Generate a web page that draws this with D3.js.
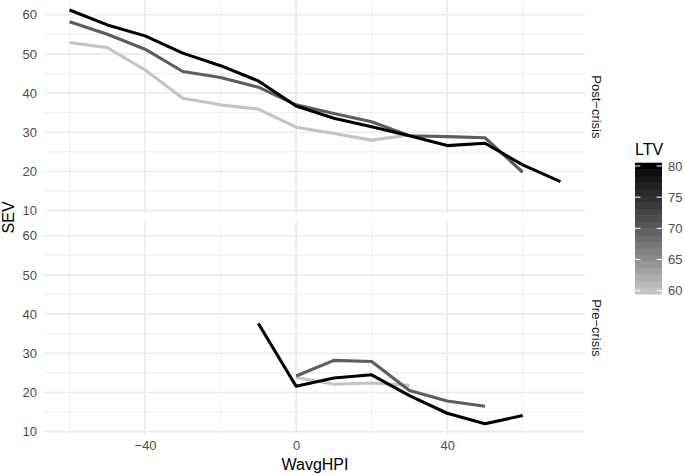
<!DOCTYPE html>
<html>
<head>
<meta charset="utf-8">
<script src="https://cdn.jsdelivr.net/npm/d3@7"></script>
<style>
  body { margin: 0; background: #fff; }
  svg { font-family: "Liberation Sans", Arial, sans-serif; }
</style>
</head>
<body>
<script>
// WavgHPI buckets shared by every series (null = no point)
const hpi = [-60, -50, -40, -30, -20, -10, 0, 10, 20, 30, 40, 50, 60, 70];

// Post-crisis SEV by LTV
const post60 = [52.9, 51.6, 45.9, 38.7, 37.0, 35.9, 31.3, 29.7, 28.0, 29.3, null, null, null, null];
const post70 = [58.2, 55.0, 51.2, 45.5, 44.0, 41.5, 37.0, 34.8, 32.7, 29.1, 28.9, 28.6, 19.8, null];
const post80 = [61.2, 57.4, 54.6, 50.2, 47.0, 43.1, 36.7, 33.6, 31.4, 29.1, 26.6, 27.2, 21.7, 17.4];

// Pre-crisis SEV by LTV
const pre60 = [null, null, null, null, null, null, 23.8, 22.1, 22.4, 21.8, null, null, null, null];
const pre70 = [null, null, null, null, null, null, 24.2, 28.2, 27.9, 20.5, 17.8, 16.5, null, null];
const pre80 = [null, null, null, null, null, 37.6, 21.6, 23.7, 24.5, 19.2, 14.7, 12.0, 14.1, null];

const ltvLevels = [60, 70, 80];
const panelNames = ["Post\u2212crisis", "Pre\u2212crisis"];
const xTicks = [-40, 0, 40];
const xMinor = [-60, -20, 20, 60];
const yTicks = [10, 20, 30, 40, 50, 60];
const yMinor = [15, 25, 35, 45, 55];
const legendTicks = [60, 65, 70, 75, 80];

const panels = [
  { name: panelNames[0], series: [post60, post70, post80] },
  { name: panelNames[1], series: [pre60, pre70, pre80] }
];

const w = 685;
const h = 475;
const left = 45;
const right = 585;
const panelH = 212.6;
const panelTops = [0.6, 221.6];

const svg = d3.select("body").append("svg").attr("width", w).attr("height", h);

const xScale = d3.scaleLinear().domain([-66.5, 76.5]).range([left, right]);
const color = d3.scaleLinear().domain([60, 80]).range(["#c4c4c4", "#000000"]).interpolate(d3.interpolateLab);

panels.forEach(function (p, pi) {
  const top = panelTops[pi];
  const yScale = d3.scaleLinear().domain([9.35, 63.6]).range([top + panelH, top]);
  const g = svg.append("g");

  // grid lines (minor first, then major)
  g.selectAll(".yminor").data(yMinor).enter().append("line")
    .attr("x1", left).attr("x2", right)
    .attr("y1", (d) => yScale(d)).attr("y2", (d) => yScale(d))
    .attr("stroke", "#ebebeb").attr("stroke-width", 0.8);
  g.selectAll(".xminor").data(xMinor).enter().append("line")
    .attr("x1", (d) => xScale(d)).attr("x2", (d) => xScale(d))
    .attr("y1", top).attr("y2", top + panelH)
    .attr("stroke", "#ebebeb").attr("stroke-width", 0.8);
  g.selectAll(".ymajor").data(yTicks).enter().append("line")
    .attr("x1", left).attr("x2", right)
    .attr("y1", (d) => yScale(d)).attr("y2", (d) => yScale(d))
    .attr("stroke", "#ebebeb").attr("stroke-width", 1.6);
  g.selectAll(".xmajor").data(xTicks).enter().append("line")
    .attr("x1", (d) => xScale(d)).attr("x2", (d) => xScale(d))
    .attr("y1", top).attr("y2", top + panelH)
    .attr("stroke", "#ebebeb").attr("stroke-width", 1.6);

  // lines, lowest LTV drawn first
  const line = d3.line()
    .defined((d) => d[1] !== null)
    .x((d) => xScale(d[0]))
    .y((d) => yScale(d[1]));

  p.series.forEach(function (vals, si) {
    const pts = hpi.map((x, i) => [x, vals[i]]);
    g.append("path")
      .attr("d", line(pts))
      .attr("fill", "none")
      .attr("stroke", color(ltvLevels[si]))
      .attr("stroke-width", 3.1)
      .attr("stroke-linejoin", "round");
  });

  // y axis
  const yAxis = d3.axisLeft(yScale).tickValues(yTicks).tickSize(0).tickPadding(8);
  const ya = g.append("g").attr("transform", "translate(" + left + ",0)").call(yAxis);
  ya.select(".domain").remove();
  ya.selectAll("text").attr("fill", "#4d4d4d").style("font-size", "13px").attr("font-family", null);

  // strip label
  g.append("text")
    .attr("transform", "translate(597," + (top + panelH / 2) + ") rotate(90)")
    .attr("text-anchor", "middle")
    .attr("dy", "0.35em")
    .attr("fill", "#1a1a1a")
    .style("font-size", "13px")
    .text(p.name);

  if (pi === 1) {
    const xAxis = d3.axisBottom(xScale).tickValues(xTicks).tickSize(0).tickPadding(7);
    const xa = g.append("g").attr("transform", "translate(0," + (top + panelH) + ")").call(xAxis);
    xa.select(".domain").remove();
    xa.selectAll("text").attr("fill", "#4d4d4d").style("font-size", "13px").attr("font-family", null);
  }
});

// axis titles
svg.append("text")
  .attr("x", (left + right) / 2).attr("y", 470)
  .attr("text-anchor", "middle")
  .style("font-size", "16px")
  .text("WavgHPI");
svg.append("text")
  .attr("transform", "translate(14," + ((panelTops[0] + panelTops[1] + panelH) / 2) + ") rotate(-90)")
  .attr("text-anchor", "middle")
  .style("font-size", "16px")
  .text("SEV");

// colour bar legend
const barX = 635, barW = 27, barTop = 162.7, barBot = 294;
const nbin = 20;
const bins = d3.range(nbin).map((i) => 60 + (i * 20) / (nbin - 1));
const binH = (barBot - barTop) / nbin;
const lg = svg.append("g");
lg.selectAll("rect").data(bins).enter().append("rect")
  .attr("x", barX)
  .attr("y", (d, i) => barBot - (i + 1) * binH)
  .attr("width", barW)
  .attr("height", binH + 0.5)
  .attr("fill", (d) => color(d));

const legendScale = d3.scaleLinear().domain([60, 80]).range([barBot - binH / 2, barTop + binH / 2]);
legendTicks.forEach(function (t) {
  const y = legendScale(t);
  lg.append("line").attr("x1", barX).attr("x2", barX + 5.4).attr("y1", y).attr("y2", y)
    .attr("stroke", "#fff").attr("stroke-width", 1);
  lg.append("line").attr("x1", barX + barW - 5.4).attr("x2", barX + barW).attr("y1", y).attr("y2", y)
    .attr("stroke", "#fff").attr("stroke-width", 1);
  lg.append("text").attr("x", barX + barW + 6).attr("y", y).attr("dy", "0.35em")
    .attr("fill", "#4d4d4d").style("font-size", "13px").text(t);
});
lg.append("text").attr("x", barX).attr("y", 155).style("font-size", "16px").text("LTV");
</script>
</body>
</html>
